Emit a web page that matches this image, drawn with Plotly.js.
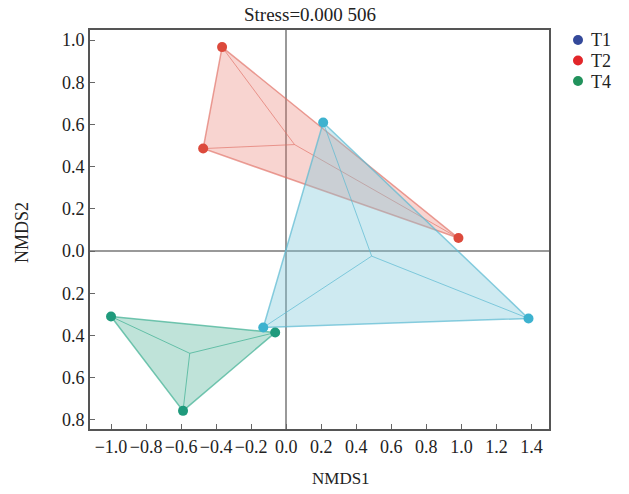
<!DOCTYPE html>
<html><head><meta charset="utf-8">
<script src="https://cdn.plot.ly/plotly-3.0.1.min.js"></script>
<style>html,body{margin:0;padding:0;background:#fff;}</style>
</head><body><div id="chart" style="width:629px;height:494px;"></div>
<script>
const groups = ["T1", "T2", "T4"];
const t1X = [0.211, 1.383, -0.131];
const t1Y = [0.610, -0.319, -0.362];
const t2X = [-0.366, -0.474, 0.983];
const t2Y = [0.967, 0.486, 0.062];
const t4X = [-1.000, -0.589, -0.063];
const t4Y = [-0.310, -0.757, -0.386];
const xTickVals = [-1.0, -0.8, -0.6, -0.4, -0.2, 0.0, 0.2, 0.4, 0.6, 0.8, 1.0, 1.2, 1.4];
const xTickText = ["\u22121.0","\u22120.8","\u22120.6","\u22120.4","\u22120.2","0.0","0.2","0.4","0.6","0.8","1.0","1.2","1.4"];
const yTickVals = [1.0, 0.8, 0.6, 0.4, 0.2, 0.0, -0.2, -0.4, -0.6, -0.8];
const yTickText = ["1.0","0.8","0.6","0.4","0.2","0.0","0.2","0.4","0.6","0.8"];

const styles = {
  T1: {fill: "rgba(125,200,218,0.38)", line: "rgba(90,185,210,0.7)", marker: "#3db2cf", legend: "#34499a"},
  T2: {fill: "rgba(232,120,110,0.32)", line: "rgba(225,110,100,0.65)", marker: "#dc4a3c", legend: "#e2262a"},
  T4: {fill: "rgba(60,170,140,0.33)", line: "rgba(60,175,145,0.7)", marker: "#1f9a7c", legend: "#22925c"}
};
const data = {T1: [t1X, t1Y], T2: [t2X, t2Y], T4: [t4X, t4Y]};
const traces = [];
const font = "Liberation Serif, Times New Roman, serif";
["T2", "T1", "T4"].forEach(g => {
  const [xs, ys] = data[g];
  const s = styles[g];
  traces.push({x: xs.concat([xs[0]]), y: ys.concat([ys[0]]), mode: "lines", fill: "toself",
    fillcolor: s.fill, line: {color: s.line, width: 1.5}, showlegend: false, hoverinfo: "skip"});
  const cx = xs.reduce((a,b)=>a+b,0)/xs.length, cy = ys.reduce((a,b)=>a+b,0)/ys.length;
  const sx = [], sy = [];
  xs.forEach((x,i)=>{ sx.push(cx, x, null); sy.push(cy, ys[i], null); });
  traces.push({x: sx, y: sy, mode: "lines", line: {color: s.line, width: 1}, showlegend: false, hoverinfo: "skip"});
});
["T2", "T1", "T4"].forEach(g => {
  const [xs, ys] = data[g];
  traces.push({x: xs, y: ys, mode: "markers", name: g, marker: {color: styles[g].marker, size: 10}, showlegend: false});
});

// plot area in pixels
const M = {l: 90, r: 80, t: 30, b: 65};
const PW = 629 - M.l - M.r, PH = 494 - M.t - M.b;
const px = v => (v - M.l) / PW;
const py = v => (494 - M.b - v) / PH;

const shapes = [];
const annotations = [
  {text: "Stress=0.000 506", xref: "paper", yref: "paper", x: px(310), y: py(15), xanchor: "center", yanchor: "middle",
    showarrow: false, font: {family: font, size: 19, color: "#222"}},
  {text: "NMDS1", xref: "paper", yref: "paper", x: px(341), y: py(478), xanchor: "center", yanchor: "middle",
    showarrow: false, font: {family: font, size: 17, color: "#222"}},
  {text: "NMDS2", xref: "paper", yref: "paper", x: px(22), y: py(233), xanchor: "center", yanchor: "middle",
    textangle: -90, showarrow: false, font: {family: font, size: 18, color: "#222"}}
];
// legend (drawn as layout decorations)
groups.forEach((g, i) => {
  const yc = 40 + i * 20.5;
  shapes.push({type: "circle", xref: "paper", yref: "paper", xsizemode: "pixel", ysizemode: "pixel",
    xanchor: px(578), yanchor: py(yc), x0: -5, x1: 5, y0: -5, y1: 5,
    fillcolor: styles[g].legend, line: {width: 0}});
  annotations.push({text: g, xref: "paper", yref: "paper", x: px(589), y: py(yc + 0.5), xanchor: "left", yanchor: "middle",
    showarrow: false, font: {family: font, size: 18, color: "#222"}});
});

const layout = {
  width: 629, height: 494,
  margin: {l: M.l, r: M.r, t: M.t, b: M.b, autoexpand: false},
  paper_bgcolor: "#fff", plot_bgcolor: "#fff",
  font: {family: font, color: "#222", size: 18},
  showlegend: false,
  xaxis: {range: [-1.12, 1.50], tickvals: xTickVals, ticktext: xTickText, ticks: "inside", ticklen: 5,
    tickcolor: "#666", showgrid: false, zeroline: true, zerolinecolor: "#999", zerolinewidth: 1.5,
    showline: true, linecolor: "#555", linewidth: 2, mirror: true, tickfont: {family: font, size: 18}},
  yaxis: {range: [-0.843, 1.048], tickvals: yTickVals, ticktext: yTickText, ticks: "inside", ticklen: 5,
    tickcolor: "#666", showgrid: false, zeroline: true, zerolinecolor: "#999", zerolinewidth: 1.5,
    showline: true, linecolor: "#555", linewidth: 2, mirror: true, tickfont: {family: font, size: 18}},
  shapes: shapes,
  annotations: annotations
};
Plotly.newPlot("chart", traces, layout, {displayModeBar: false, staticPlot: true});
</script></body></html>
